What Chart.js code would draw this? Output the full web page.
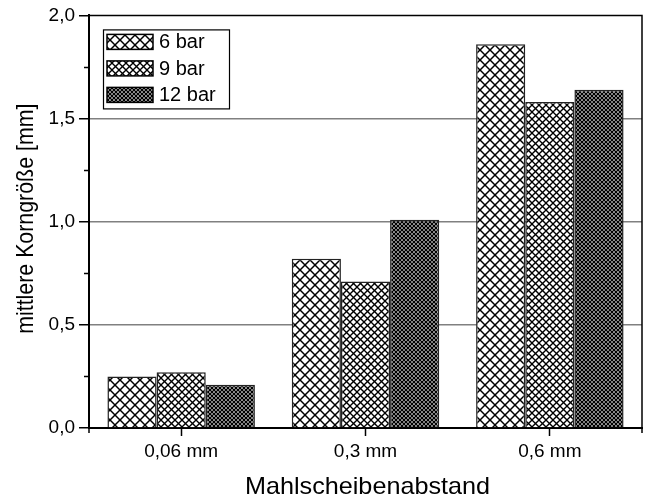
<!DOCTYPE html>
<html><head><meta charset="utf-8">
<script src="https://cdn.jsdelivr.net/npm/chart.js@4"></script>
<style>html,body{margin:0;padding:0;background:#fff}canvas{display:block}</style>
</head><body>
<canvas id="c" width="649" height="501"></canvas>
<script>
// Mean grain size per grinding-disc gap and pressure
const categories = ['0,06 mm', '0,3 mm', '0,6 mm'];
const seriesLabels = ['6 bar', '9 bar', '12 bar'];
const bar6 = [0.25, 0.82, 1.86];
const bar9 = [0.27, 0.71, 1.58];
const bar12 = [0.21, 1.01, 1.64];
const yMin = 0, yMax = 2.0, yStep = 0.5, yMinorStep = 0.25;
const xTitle = 'Mahlscheibenabstand';
const yTitle = 'mittlere Korngröße [mm]';

const FONT = '"Liberation Sans", Arial, sans-serif';
const canvas = document.getElementById('c');
const ctx = canvas.getContext('2d');

// cross-hatch fill: two families of 45° lines
function hatch(period, width) {
  const t = document.createElement('canvas');
  t.width = t.height = period;
  const g = t.getContext('2d');
  g.fillStyle = '#fff';
  g.fillRect(0, 0, period, period);
  g.strokeStyle = '#000';
  g.lineWidth = width;
  for (let k = -1; k <= 1; k++) {
    g.beginPath(); g.moveTo(k * period, 0); g.lineTo(k * period + period, period); g.stroke();
    g.beginPath(); g.moveTo(k * period + period, 0); g.lineTo(k * period, period); g.stroke();
  }
  return ctx.createPattern(t, 'repeat');
}
const fills = [hatch(10, 1.5), hatch(7, 1.35), hatch(4, 1.35)];

// axis titles drawn with a slight horizontal stretch of the glyphs
const axisTitles = {
  id: 'axisTitles',
  afterDraw(chart) {
    const c = chart.ctx;
    const a = chart.chartArea;
    c.save();
    c.fillStyle = '#000';
    c.textAlign = 'center';
    c.textBaseline = 'alphabetic';
    c.font = '24px ' + FONT;
    c.save();
    c.translate((a.left + a.right) / 2 + 2, 494);
    c.scale(1.05, 1);
    c.fillText(xTitle, 0, 0);
    c.restore();
    c.save();
    c.translate(33, (a.top + a.bottom) / 2 - 3);
    c.rotate(-Math.PI / 2);
    c.scale(0.89, 1);
    c.fillText(yTitle, 0, 0);
    c.restore();
    c.restore();
  }
};

const frameAndLegend = {
  id: 'frameAndLegend',
  afterDraw(chart) {
    const c = chart.ctx;
    const a = chart.chartArea;
    const y = chart.scales.y;
    c.save();
    c.strokeStyle = '#000';
    // top and right frame
    c.lineWidth = 1.5;
    c.beginPath();
    c.moveTo(a.left, a.top); c.lineTo(a.right, a.top); c.lineTo(a.right, a.bottom + 5);
    c.stroke();
    // minor y ticks
    for (let v = yMinorStep; v < yMax; v += yStep) {
      const py = Math.round(y.getPixelForValue(v)) + 0.5;
      c.beginPath(); c.moveTo(a.left - 5, py); c.lineTo(a.left, py); c.stroke();
    }
    c.beginPath(); c.moveTo(a.left, a.bottom); c.lineTo(a.left, a.bottom + 5); c.stroke();

    // legend box
    const lx = a.left + 14, ly = a.top + 14, lw = 126, lh = 79;
    c.fillStyle = '#fff';
    c.fillRect(lx, ly, lw, lh);
    c.lineWidth = 1.2;
    c.strokeRect(lx + 0.5, ly + 0.5, lw, lh);
    c.font = '20px ' + FONT;
    c.textBaseline = 'middle';
    c.textAlign = 'left';
    chart.data.datasets.forEach((ds, i) => {
      const sx = lx + 4, sy = ly + 5 + i * 26.5, sw = 46, sh = 15;
      c.fillStyle = ds.backgroundColor;
      c.fillRect(sx, sy, sw, sh);
      c.lineWidth = 1.5;
      c.strokeStyle = '#000';
      c.strokeRect(sx, sy, sw, sh);
      c.fillStyle = '#000';
      c.fillText(ds.label, sx + 52, sy + sh / 2 + 1);
    });
    c.restore();
  }
};

new Chart(ctx, {
  type: 'bar',
  data: {
    labels: categories,
    datasets: [
      { label: seriesLabels[0], data: bar6, backgroundColor: fills[0] },
      { label: seriesLabels[1], data: bar9, backgroundColor: fills[1] },
      { label: seriesLabels[2], data: bar12, backgroundColor: fills[2] }
    ].map(d => Object.assign(d, { borderColor: '#222', borderWidth: 1.5, categoryPercentage: 0.8, barPercentage: 1.0 }))
  },
  options: {
    responsive: false,
    animation: false,
    devicePixelRatio: 1,
    layout: { padding: { top: 14, right: 7, left: 0, bottom: 0 } },
    plugins: { legend: { display: false }, tooltip: { enabled: false } },
    scales: {
      x: {
        offset: true,
        grid: { offset: false, drawOnChartArea: false, tickLength: 8, tickColor: '#000', tickWidth: 1.5 },
        border: { display: true, color: '#000', width: 2 },
        ticks: { color: '#000', font: { family: FONT, size: 19 }, padding: 4, maxRotation: 0 },
        afterFit(s) { s.height = 73; }
      },
      y: {
        min: yMin, max: yMax,
        grid: {
          color: c => (c.tick && (c.tick.value === yMin || c.tick.value === yMax)) ? 'rgba(0,0,0,0)' : '#808080',
          lineWidth: 1.5,
          tickLength: 10, tickColor: '#000', tickWidth: 1.5
        },
        border: { display: true, color: '#000', width: 2 },
        ticks: {
          stepSize: yStep, color: '#000', padding: 4,
          font: { family: FONT, size: 19 },
          callback: v => v.toFixed(1).replace('.', ',')
        },
        afterFit(s) { s.width = 89; }
      }
    }
  },
  plugins: [frameAndLegend, axisTitles]
});
</script>
</body></html>
